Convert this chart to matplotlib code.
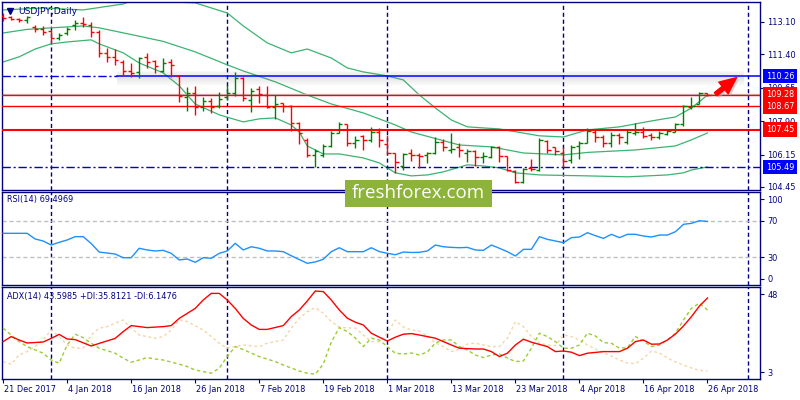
import matplotlib
matplotlib.use('Agg')
import matplotlib.pyplot as plt
from matplotlib.patches import Rectangle
import numpy as np

# daily OHLC bars, 21 Dec 2017 .. 26 Apr 2018
opens = [113.40, 113.36, 113.26, 113.20, 112.84, 112.73, 112.63, 112.26, 112.52, 112.94,
	113.05, 112.94, 112.58, 111.48, 111.27, 111.00, 110.53, 110.48, 111.27, 111.06,
	110.53, 111.00, 110.27, 109.17, 109.38, 108.65, 108.96, 108.70, 109.17, 109.38,
	110.17, 109.01, 109.59, 109.27, 108.65, 108.85, 108.70, 107.81, 106.92, 106.13,
	106.13, 106.60, 107.28, 107.75, 106.76, 107.13, 106.92, 107.33, 106.71, 106.23,
	105.55, 106.23, 106.13, 106.10, 106.23, 106.81, 106.39, 106.55, 106.23, 106.34,
	106.02, 106.02, 106.55, 106.08, 105.29, 104.71, 105.45, 105.34, 106.86, 106.55,
	106.23, 105.87, 106.60, 106.76, 107.33, 107.07, 106.76, 107.18, 106.81, 107.28,
	107.33, 107.18, 107.07, 107.23, 107.33, 107.75, 108.65, 108.80, 109.38]
highs = [113.57, 113.40, 113.33, 113.40, 112.94, 112.89, 112.68, 112.52, 112.84, 113.20,
	113.36, 113.10, 112.68, 111.74, 111.68, 111.11, 110.95, 111.27, 111.48, 111.11,
	111.21, 111.16, 110.32, 109.69, 109.75, 109.17, 109.12, 109.43, 109.80, 110.48,
	110.22, 109.64, 109.75, 109.75, 109.27, 108.85, 108.75, 107.86, 107.02, 106.44,
	106.71, 107.39, 107.86, 107.75, 107.13, 107.18, 107.60, 107.54, 107.18, 106.23,
	106.23, 106.44, 106.23, 106.29, 107.07, 106.97, 107.28, 106.76, 106.44, 106.39,
	106.29, 106.60, 106.60, 106.08, 105.34, 105.45, 105.92, 107.02, 106.92, 106.55,
	106.55, 106.65, 106.86, 107.54, 107.44, 107.18, 107.33, 107.28, 107.44, 107.81,
	107.60, 107.28, 107.39, 107.49, 107.81, 108.75, 109.17, 109.43, 109.38]
lows = [113.15, 113.20, 113.10, 113.05, 112.58, 112.42, 112.00, 112.16, 112.42, 112.68,
	112.84, 112.31, 111.27, 111.00, 110.85, 110.27, 110.22, 110.17, 110.69, 110.43,
	110.48, 110.22, 108.91, 108.44, 108.23, 108.44, 108.33, 108.59, 109.01, 109.22,
	108.96, 108.38, 108.85, 108.59, 108.02, 108.38, 107.39, 106.71, 106.02, 105.50,
	106.02, 106.55, 107.28, 106.60, 106.50, 106.39, 106.81, 106.55, 106.18, 105.19,
	105.34, 105.81, 105.45, 105.71, 106.18, 106.34, 106.23, 106.02, 105.76, 105.55,
	105.71, 105.97, 105.76, 105.29, 104.66, 104.66, 105.29, 105.29, 106.23, 106.13,
	105.50, 105.71, 105.92, 106.76, 106.81, 106.55, 106.55, 106.71, 106.71, 107.18,
	107.02, 106.92, 106.97, 107.18, 107.33, 107.65, 108.54, 108.80, 109.22]
closes = [113.30, 113.26, 113.20, 113.36, 112.73, 112.58, 112.26, 112.42, 112.73, 113.05,
	112.99, 112.58, 111.48, 111.27, 111.11, 110.53, 110.43, 111.21, 111.00, 110.79,
	110.95, 110.85, 109.22, 109.38, 108.65, 108.96, 108.65, 109.06, 109.38, 110.17,
	109.12, 109.48, 109.33, 108.65, 108.80, 108.70, 107.81, 107.28, 106.13, 106.34,
	106.60, 107.28, 107.75, 106.76, 106.92, 106.92, 107.33, 106.92, 106.23, 105.76,
	106.18, 106.13, 106.05, 106.23, 106.81, 106.55, 106.44, 106.39, 106.34, 106.02,
	106.05, 106.55, 106.08, 105.34, 104.71, 105.40, 105.40, 106.92, 106.39, 106.34,
	105.81, 106.55, 106.76, 107.39, 107.07, 106.76, 107.18, 107.07, 107.33, 107.33,
	107.13, 107.07, 107.28, 107.39, 107.75, 108.70, 108.70, 109.38, 109.28]

date_labels = ['21 Dec 2017', '4 Jan 2018', '16 Jan 2018', '26 Jan 2018', '7 Feb 2018',
	'19 Feb 2018', '1 Mar 2018', '13 Mar 2018', '23 Mar 2018', '4 Apr 2018',
	'16 Apr 2018', '26 Apr 2018']
month_starts = [6, 28, 48, 70, 93]

# bollinger bands, read at bar positions
bb_up_x = [0, 5, 10, 15, 17, 19, 21, 24, 28, 30, 33, 36, 38, 41, 43, 45, 48, 50, 52, 54,
	56, 58, 62, 67, 70, 73, 77, 81, 84, 86, 88]
bb_up = [113.73, 113.83, 113.73, 114.04, 114.36, 114.41, 114.15, 114.10, 113.57, 112.89,
	112.00, 111.48, 111.68, 111.21, 110.69, 110.48, 110.27, 110.06, 109.27, 108.59,
	107.96, 107.60, 107.49, 107.13, 107.07, 107.44, 107.60, 107.91, 108.12, 108.59, 109.27]
bb_mid_x = [0, 3, 6, 10, 12, 16, 20, 24, 28, 30, 34, 38, 41, 45, 49, 51, 57, 61, 65, 70,
	73, 79, 84, 86, 88]
bb_mid = [112.52, 112.71, 112.79, 112.89, 112.79, 112.44, 112.08, 111.53, 110.85, 110.53,
	109.96, 109.27, 108.80, 108.33, 107.70, 107.33, 106.65, 106.55, 106.23, 106.13,
	106.26, 106.39, 106.60, 106.92, 107.28]
bb_low_x = [0, 2, 4, 6, 8, 11, 12, 15, 17, 20, 22, 24, 27, 30, 32, 34, 36, 37, 38, 40,
	42, 45, 47, 49, 51, 53, 55, 58, 60, 62, 64, 67, 73, 78, 83, 85, 86, 88]
bb_low = [111.00, 111.27, 111.68, 111.95, 112.05, 112.16, 111.95, 111.48, 110.95, 110.43,
	109.75, 108.80, 108.23, 107.86, 108.02, 108.07, 107.70, 107.33, 106.60, 106.18,
	106.18, 105.97, 105.71, 105.19, 105.03, 105.08, 105.24, 105.61, 105.55, 105.45,
	105.19, 105.08, 105.03, 104.98, 105.08, 105.19, 105.34, 105.50]

# RSI(14)
rsi_x = [0, 3, 4, 5, 6, 7, 8, 9, 10, 11, 12, 14, 15, 16, 17, 18, 19, 20, 21, 22, 23, 24,
	25, 26, 27, 28, 29, 30, 31, 32, 33, 34, 35, 36, 38, 39, 40, 41, 42, 43, 45, 46, 47,
	48, 49, 50, 51, 52, 53, 54, 55, 56, 57, 58, 59, 60, 61, 62, 63, 64, 65, 66, 67, 68,
	69, 70, 71, 72, 73, 74, 75, 76, 77, 78, 79, 80, 81, 82, 83, 84, 85, 86, 87, 88]
rsi = [56.3, 56.3, 50.0, 47.8, 43.3, 46.3, 48.9, 52.6, 52.6, 45.0, 35.5, 33.3, 29.2, 29.2,
	39.7, 37.8, 36.7, 37.4, 34.1, 26.7, 27.8, 24.1, 29.2, 28.6, 34.1, 36.7, 45.2, 37.8,
	41.4, 39.7, 36.7, 36.7, 35.9, 31.4, 23.0, 24.5, 27.5, 35.9, 40.3, 35.9, 35.9, 40.3,
	36.0, 34.1, 32.5, 35.5, 35.0, 35.2, 36.7, 43.3, 41.4, 40.7, 40.3, 40.7, 37.8, 37.4,
	43.3, 39.7, 35.9, 31.1, 38.5, 38.5, 52.6, 49.6, 47.8, 45.9, 51.5, 52.2, 57.0, 53.7,
	50.7, 55.2, 51.5, 55.2, 55.2, 53.3, 52.2, 54.4, 54.4, 58.1, 66.3, 67.4, 70.3, 69.5]

# ADX(14) with +DI / -DI
adx_x = [0, 1, 2, 3, 5, 6, 7, 8, 9, 11, 12, 14, 15, 16, 18, 20, 21, 22, 24, 25, 26, 27,
	28, 29, 30, 31, 32, 33, 35, 36, 37, 38, 39, 40, 41, 42, 43, 44, 45, 46, 47, 48, 49,
	50, 51, 52, 54, 55, 56, 57, 59, 60, 61, 62, 63, 64, 65, 66, 68, 69, 70, 71, 72, 73,
	75, 77, 78, 79, 80, 81, 82, 83, 84, 85, 86, 87, 88]
adx = [21.2, 23.7, 22.0, 20.5, 21.0, 22.8, 24.8, 22.5, 22.2, 19.0, 20.3, 22.8, 26.2, 29.2,
	28.2, 28.7, 29.2, 32.8, 37.8, 42.0, 45.3, 45.3, 42.0, 37.8, 32.8, 29.5, 27.3, 27.3,
	29.2, 33.7, 37.0, 41.5, 46.5, 46.2, 42.0, 37.0, 32.9, 30.9, 29.5, 25.4, 23.4, 21.5,
	23.4, 24.9, 25.2, 24.5, 22.9, 21.2, 19.5, 17.9, 17.5, 17.5, 16.2, 13.7, 15.4, 19.5,
	22.4, 20.9, 18.7, 16.2, 16.5, 15.9, 14.2, 15.4, 16.2, 16.2, 17.9, 21.2, 22.0, 19.9,
	20.0, 22.0, 25.0, 29.0, 33.7, 39.0, 43.0]
pdi_x = [0, 1, 2, 3, 5, 6, 7, 8, 9, 10, 11, 12, 14, 15, 16, 17, 18, 19, 20, 22, 23, 24,
	26, 27, 28, 29, 30, 32, 34, 35, 37, 38, 39, 40, 41, 42, 43, 44, 45, 46, 47, 48, 49,
	50, 51, 52, 53, 54, 55, 56, 57, 58, 59, 60, 61, 62, 63, 64, 65, 66, 67, 68, 69, 70,
	71, 72, 73, 74, 75, 76, 77, 78, 79, 80, 81, 82, 83, 84, 85, 86, 87, 88]
pdi = [27.9, 24.5, 21.2, 18.7, 15.4, 12.0, 10.4, 19.5, 24.9, 23.2, 20.4, 17.9, 15.4, 12.9,
	10.9, 12.0, 13.2, 12.5, 12.0, 9.9, 8.7, 7.0, 5.4, 7.9, 13.7, 18.7, 17.2, 13.7, 11.2,
	9.5, 6.5, 5.4, 4.9, 10.0, 21.0, 28.2, 26.2, 23.0, 18.7, 22.9, 22.0, 18.7, 15.4, 15.0,
	15.5, 14.5, 16.0, 20.5, 22.0, 22.0, 18.7, 17.0, 14.5, 13.2, 14.5, 15.0, 13.0, 11.2,
	11.5, 17.9, 25.4, 23.7, 21.2, 17.9, 17.9, 19.5, 25.4, 24.0, 20.7, 20.4, 17.9, 18.2,
	23.7, 21.5, 18.7, 19.5, 22.0, 25.4, 32.0, 37.9, 40.4, 37.0]
mdi_x = [0, 1, 2, 3, 4, 5, 6, 7, 8, 9, 10, 11, 12, 13, 15, 16, 17, 19, 20, 21, 22, 23,
	25, 26, 27, 28, 30, 32, 33, 35, 36, 37, 38, 39, 40, 41, 42, 43, 44, 45, 46, 47, 48,
	49, 50, 51, 52, 53, 54, 55, 56, 57, 58, 59, 60, 61, 62, 63, 64, 65, 66, 67, 68, 69,
	70, 71, 72, 73, 74, 75, 76, 77, 78, 79, 80, 81, 82, 83, 84, 85, 86, 87, 88]
mdi = [11.2, 9.9, 14.5, 16.2, 18.7, 22.0, 27.0, 23.7, 19.5, 17.9, 17.9, 24.5, 27.9, 28.7,
	32.0, 27.9, 24.5, 22.9, 23.7, 27.0, 32.0, 31.2, 27.0, 23.7, 20.4, 17.9, 19.5, 18.7,
	20.4, 22.0, 27.9, 32.9, 36.2, 38.2, 35.4, 31.2, 28.5, 28.0, 28.0, 24.5, 21.2, 21.2,
	25.4, 32.0, 28.5, 27.0, 26.5, 24.0, 20.5, 18.7, 16.2, 17.5, 20.0, 20.4, 19.5, 18.7,
	18.7, 22.9, 31.2, 28.7, 23.7, 20.5, 19.5, 19.2, 24.5, 23.7, 22.0, 19.5, 17.5, 15.5,
	14.0, 12.0, 10.5, 10.2, 12.9, 16.5, 15.5, 13.0, 11.0, 9.5, 8.0, 6.8, 6.5]

price_ticks = [113.10, 111.40, 109.65, 107.90, 106.15, 104.45]
support_levels = [109.28, 108.67, 107.45]
blue_levels = [110.26, 105.49]


if __name__ == '__main__':
	navy = '#000080'
	plt.rcParams['font.family'] = ['DejaVu Sans']
	fs = 5.9

	fig = plt.figure(figsize=(8, 4), dpi=100)
	fig.patch.set_facecolor('white')
	ax1 = fig.add_axes([0.0029, 0.525, 0.9475, 0.4693])
	ax2 = fig.add_axes([0.0029, 0.2875, 0.9475, 0.2325])
	ax3 = fig.add_axes([0.0029, 0.0525, 0.9475, 0.23])

	for ax in (ax1, ax2, ax3):
		ax.set_xlim(-0.1, 94.6)
		for sp in ax.spines.values():
			sp.set_color(navy)
			sp.set_linewidth(1.0)
		ax.yaxis.tick_right()
		ax.tick_params(axis='y', direction='out', length=3, color=navy,
			labelcolor=navy, labelsize=fs, pad=2)
		ax.set_xticks([])
		for m in month_starts:
			ax.axvline(m, color=navy, lw=1.0, ls=(0, (3, 2)), zorder=1)

	# ---- price panel
	ax1.set_ylim(104.29, 114.13)
	ax1.set_yticks(price_ticks)
	ax1.set_yticklabels(['%.2f' % p for p in price_ticks])

	x = np.arange(len(closes))
	o = np.array(opens)
	c = np.array(closes)
	cols = np.where(c >= o, '#008000', '#ff0000')

	ax1.plot(bb_up_x, bb_up, color='#3cb371', lw=0.9, zorder=2)
	ax1.plot(bb_mid_x, bb_mid, color='#3cb371', lw=0.9, zorder=2)
	ax1.plot(bb_low_x, bb_low, color='#3cb371', lw=0.9, zorder=2)

	# levels
	ax1.axhline(109.31, color='#c8c8c8', lw=1.0, zorder=2)
	for lv in support_levels:
		ax1.axhline(lv, color='#ff0000', lw=1.5 if lv == 107.45 else 1.0, zorder=3)
	ax1.axhline(blue_levels[1], color='#0000c8', lw=1.0, ls=(0, (6, 2, 1.5, 2)), zorder=3)
	ax1.plot([-0.1, 14.25], [blue_levels[0]] * 2, color='#0000c8', lw=1.0,
		ls=(0, (6, 2, 1.5, 2)), zorder=3)
	for k in range(1, 10):
		a = 0.15 * (1 - k / 10.0)
		ax1.plot([14.25, 92.6], [blue_levels[0] - k * 0.052] * 2, color='gray',
			alpha=a, lw=1.2, zorder=2, solid_capstyle='butt')
		if k < 5:
			ax1.plot([14.25, 92.6], [blue_levels[0] + k * 0.052] * 2, color='gray',
				alpha=a * 0.6, lw=1.2, zorder=2, solid_capstyle='butt')
	ax1.plot([14.25, 94.6], [blue_levels[0]] * 2, color='#0000ff', lw=1.1, zorder=3)

	ax1.vlines(x, lows, highs, colors=cols, lw=1.0, zorder=4)
	ax1.hlines(o, x - 0.4, x, colors=cols, lw=1.0, zorder=4)
	ax1.hlines(c, x, x + 0.4, colors=cols, lw=1.0, zorder=4)

	# arrow towards target
	ax1.annotate('', xy=(92.2, 110.17), xytext=(89.0, 109.10), zorder=5,
		arrowprops=dict(arrowstyle='simple,head_length=1.0,head_width=0.9,tail_width=0.25',
			fc='#b0b0b0', ec='none', alpha=0.5, mutation_scale=12))
	ax1.annotate('', xy=(91.9, 110.27), xytext=(88.75, 109.22), zorder=6,
		arrowprops=dict(arrowstyle='simple,head_length=1.0,head_width=0.9,tail_width=0.25',
			fc='#ff0000', ec='#ff0000', mutation_scale=12))

	ax1.text(0.021, 0.953, 'USDJPY,Daily', transform=ax1.transAxes, fontsize=6.6,
		color=navy, va='center', ha='left', zorder=7)
	ax1.plot([0.0095], [0.955], marker='v', ms=4.5, color=navy,
		transform=ax1.transAxes, clip_on=False, zorder=7)

	tr = ax1.get_yaxis_transform()
	for lv in blue_levels:
		ax1.text(1.0075, lv, '%.2f' % lv, transform=tr, fontsize=fs, color='white',
			va='center', ha='left', zorder=8, clip_on=False,
			bbox=dict(boxstyle='square,pad=0.35', fc='#0000ff', ec='none'))
	for lv in support_levels:
		ax1.text(1.0075, lv, '%.2f' % lv, transform=tr, fontsize=fs, color='white',
			va='center', ha='left', zorder=8, clip_on=False,
			bbox=dict(boxstyle='square,pad=0.35', fc='#ff0000', ec='none'))

	# ---- RSI panel
	ax2.set_ylim(-1.1, 102.2)
	ax2.set_yticks([94.4, 70, 30, 5.6])
	ax2.set_yticklabels(['100', '70', '30', '0'])
	for lv in (70, 30):
		ax2.axhline(lv, color='#c0c0c0', lw=1.0, ls=(0, (3, 2)), zorder=1)
	ax2.plot(rsi_x, rsi, color='#1e90ff', lw=1.0, zorder=3)
	ax2.text(0.006, 0.915, 'RSI(14) 69.4969', transform=ax2.transAxes, fontsize=fs,
		color=navy, va='center', ha='left')

	# ---- ADX panel
	ax3.set_ylim(2.5, 48.5)
	ax3.set_yticks([45, 6])
	ax3.set_yticklabels(['48', '3'])
	ax3.plot(mdi_x, mdi, color='#f5d5a8', lw=1.0, ls=(0, (2, 2)), zorder=2)
	ax3.plot(pdi_x, pdi, color='#9acd32', lw=1.0, ls=(0, (2.5, 2)), zorder=3)
	ax3.plot(adx_x, adx, color='#ff0000', lw=1.0, zorder=4)
	ax3.text(0.006, 0.902, 'ADX(14) 43.5985 +DI:35.8121 -DI:6.1476',
		transform=ax3.transAxes, fontsize=fs, color=navy, va='center', ha='left')

	tick_pos = list(range(0, 89, 8))
	ax3.set_xticks(tick_pos)
	ax3.set_xticklabels([])
	ax3.tick_params(axis='x', direction='out', length=3, color=navy)
	xtr = ax3.get_xaxis_transform()
	for tp, lab in zip(tick_pos, date_labels):
		ax3.text(tp + 0.1, -0.11, lab, transform=xtr, fontsize=fs, color=navy,
			va='center', ha='left', clip_on=False)

	# watermark
	fig.patches.append(Rectangle((0.43125, 0.4825), 0.18375, 0.0675,
		transform=fig.transFigure, fc='#8db33a', ec='none', zorder=10))
	fig.text(0.5231, 0.5165, 'freshforex.com', fontsize=13.5, color='white',
		family=['Open Sans', 'DejaVu Sans'], ha='center', va='center', zorder=11)

	plt.savefig('out.png', dpi=100)
	plt.close('all')
